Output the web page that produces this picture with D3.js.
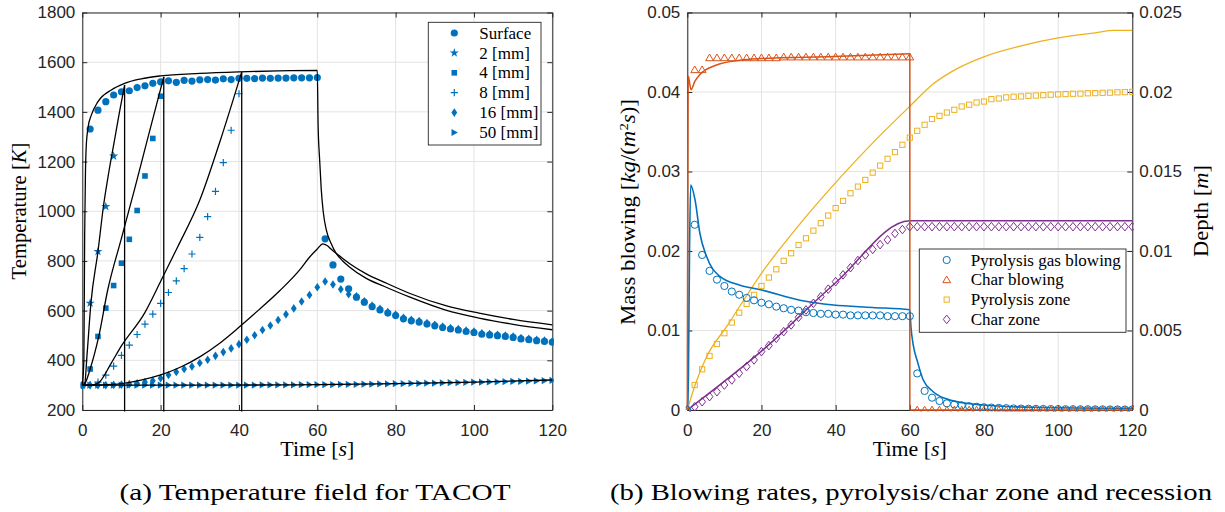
<!DOCTYPE html>
<html><head><meta charset="utf-8">
<script src="https://cdn.jsdelivr.net/npm/d3@7"></script>
<style>body{margin:0;background:#fff}svg{display:block}</style>
</head><body>
<svg id="c" width="1225" height="512"></svg>
<script>
// ---------- DATA ----------
const markerTimes = [0,2,4,6,8,10,12,14,16,18,20,22,24,26,28,30,32,34,36,38,40,42,44,46,48,50,52,54,56,58,60,62,64,66,68,70,72,74,76,78,80,82,84,86,88,90,92,94,96,98,100,102,104,106,108,110,112,114,116,118,120];
const xTicks = [0,20,40,60,80,100,120];
const tempTicks = [200,400,600,800,1000,1200,1400,1600,1800];
const blowTicks = [0,0.01,0.02,0.03,0.04,0.05];
const depthTicks = [0,0.005,0.01,0.015,0.02,0.025];

// (a) measured markers
const surfaceVals = [300,1331,1407,1441,1468,1481,1485,1498,1505,1515,1521,1525,1519,1527,1524,1529,1530,1528,1533,1530,1535,1535,1534,1536,1535,1536,1536,1537,1537,1537,1538,889,784,727,688,654,634,616,603,590,580,567,559,554,546,539,532,526,522,516,512,505,502,499,496,492,486,483,479,476,473];
const mm2Times = [0,2,4,6,8];
const mm2Vals = [300,630,838,1019,1222];
const mm4Times = [0,2,4,6,8,10,12,14,16,18,20];
const mm4Vals = [300,365,496,610,701,791,887,1003,1142,1293,1463];
const mm8Times = [0,2,4,6,8,10,12,14,16,18,20,22,24,26,28,30,32,34,36,38,40];
const mm8Vals = [300,300,312,340,377,420,461,504,546,586,629,673,720,769,828,895,978,1080,1196,1326,1473];
const mm16Vals = [300,300,300,300,301,302,304,307,312,318,328,341,353,365,375,389,402,418,433,448,465,483,501,522,540,562,585,609,637,663,694,717,705,686,666,658,638,620,607,594,584,571,563,558,550,543,536,530,526,520,516,509,506,503,500,496,490,487,483,480,477];
const mm50Vals = [300,300,300,300,300,300,300,300,300,300,300,300,300,300,300,300,300,300,300,300,300,300,300,301,301,301,301,301,302,302,302,302,302,303,303,303,304,304,305,305,306,306,307,307,308,308,309,310,310,311,312,312,313,313,314,315,315,316,317,318,319];

// (a) simulation curves (black)
const simSurfT = [0,0.4,0.6,0.8,1.0,1.5,2.3,4,7.4,10.8,15,20,30,40,50,60,60.2,60.6,61,61.5,62.3,63.5,64.8,66.5,68.2,72.5,77,83.5,92.8,101.3,110,120];
const simSurfV = [300,400,900,1150,1260,1340,1387,1441,1488,1515,1533,1545,1555,1561,1565,1567,1350,1206,1090,1000,925,871,831,800,776,730,698,655,602,570,545,523];
const sim2T = [0,0.6,1.2,2.2,4,5.4,6.8,8.25,9.5,10.8,10.8];
const sim2V = [300,305,420,630,838,1020,1160,1288,1400,1508,0];
const sim4T = [0,0.6,2,4.2,6.5,9.9,13.3,16.7,20.8,20.8];
const sim4V = [300,305,365,496,684,886,1086,1293,1541,0];
const sim8T = [0,2,4,7.4,9.9,15.9,20.2,24.4,30,35.4,40.7,40.7];
const sim8V = [300,300,308,389,456,590,724,858,1045,1293,1561,0];
const sim16T = [0,5,10,15,20,25,30,35,40,45,50.4,55.5,58,60,61.4,62.5,63.5,64.8,66.5,68.2,72.5,77,83.5,92.8,101.3,110,120];
const sim16V = [300,301,306,320,341,372,414,468,533,602,680,764,815,848,869,862,848,831,810,790,748,715,670,620,590,565,543];
const sim50T = [0,30,50,60,80,100,120];
const sim50V = [300,300,301,302,306,312,321];

// (b) markers
const pyroGasVals = [0,0.0233,0.0195,0.0175,0.0164,0.0156,0.0149,0.0145,0.0141,0.0138,0.0135,0.0133,0.0130,0.0128,0.0126,0.0125,0.0123,0.0122,0.0121,0.0121,0.0120,0.0120,0.0119,0.0119,0.0119,0.0119,0.0119,0.0118,0.0118,0.0118,0.0118,0.0046,0.0024,0.00155,0.00113,0.00084,0.0007,0.00058,0.00048,0.0004,0.00034,0.0003,0.00026,0.00023,0.0002,0.00018,0.00016,0.00014,0.00013,0.00012,0.00011,0.0001,0.0001,0.00009,0.00009,0.00008,0.00008,0.00007,0.00007,0.00006,0.00006];
const charBlowVals = [0,0.0428,0.0428,0.0443,0.0443,0.0443,0.0443,0.0443,0.0443,0.0443,0.0443,0.0443,0.0443,0.0444,0.0444,0.0444,0.0444,0.0444,0.0444,0.0444,0.0444,0.0444,0.0444,0.0444,0.0444,0.0444,0.0444,0.0444,0.0444,0.0444,0.0444,0,0,0,0,0,0,0,0,0,0,0,0,0,0,0,0,0,0,0,0,0,0,0,0,0,0,0,0,0,0];
const pyroZoneVals = [0,0.00157,0.00256,0.0034,0.00415,0.00483,0.0055,0.00612,0.00667,0.00724,0.0078,0.00833,0.00885,0.00938,0.00986,0.01038,0.0108,0.01128,0.01175,0.01223,0.0127,0.01315,0.01363,0.01405,0.01447,0.01493,0.01537,0.0158,0.01622,0.01668,0.01713,0.01756,0.01794,0.0183,0.0185,0.01871,0.01888,0.01909,0.0192,0.01934,0.0194,0.01955,0.01959,0.01966,0.0197,0.01972,0.01976,0.01978,0.0198,0.01983,0.01985,0.01987,0.01989,0.0199,0.01992,0.01993,0.01995,0.01996,0.01998,0.01999,0.02001];
const charZoneVals = [0,0.0002,0.00052,0.00084,0.00115,0.00157,0.00189,0.00231,0.00273,0.00315,0.00367,0.00405,0.00451,0.00493,0.00535,0.00583,0.00629,0.00671,0.00713,0.0076,0.00807,0.0085,0.00895,0.0094,0.00975,0.0101,0.0104,0.0107,0.0111,0.01135,0.01153,0.01153,0.01153,0.01153,0.01153,0.01153,0.01153,0.01153,0.01153,0.01153,0.01153,0.01153,0.01153,0.01153,0.01153,0.01153,0.01153,0.01153,0.01153,0.01153,0.01153,0.01153,0.01153,0.01153,0.01153,0.01153,0.01153,0.01153,0.01153,0.01153,0.01153];

// (b) simulation curves
const pyroGasLineT = [0,0.3,0.6,0.9,2.1,3.4,5.2,8.8,14.2,20,30.4,39.4,50,60,60.3,61,62,63.6,66.3,70.8,79.7,93,120];
const pyroGasLineV = [0,0.004,0.02,0.0283,0.0264,0.0222,0.0193,0.0168,0.0157,0.0151,0.0138,0.0132,0.0129,0.0126,0.0105,0.0080,0.0062,0.0038,0.0023,0.00126,0.00063,0.00034,0.0002];
const charBlowLineT = [0,0.25,1,2,3.4,7.9,14.2,20,39.4,60,60,120];
const charBlowLineV = [0,0.042,0.0403,0.0413,0.0422,0.0434,0.0440,0.0442,0.04445,0.0448,0,0];
const pyroZoneLineT = [0,2.1,5.2,10.6,20,30,40,50,60,66.3,73,79.8,90,100,110,115,120];
const pyroZoneLineV = [0,0.00157,0.00335,0.00524,0.0086,0.0116,0.0143,0.0168,0.0191,0.0205,0.0215,0.0222,0.0229,0.0234,0.02372,0.02387,0.02387];
const charZoneLineT = [0,20,40,60,120];
const charZoneLineV = [0,0.0037,0.0080,0.0119,0.0119];

const legendA = ['Surface','2 [mm]','4 [mm]','8 [mm]','16 [mm]','50 [mm]'];
const legendB = ['Pyrolysis gas blowing','Char blowing','Pyrolysis zone','Char zone'];

// ---------- STYLE ----------
const BLUE='#0072BD', RED='#D95319', YEL='#EDB120', PUR='#7E2F8E', AX='#262626', GRID='#e3e3e3';
const SANS='"Liberation Sans", Arial, sans-serif', SERIF='"Liberation Serif", "Times New Roman", serif';

const svg = d3.select('#c');
const TOP=12.5, BOT=410;
const xL = d3.scaleLinear().domain([0,120]).range([82.3,552.3]);
const yL = d3.scaleLinear().domain([200,1800]).range([BOT,TOP]);
const xR = d3.scaleLinear().domain([0,120]).range([687.3,1132.3]);
const yB = d3.scaleLinear().domain([0,0.05]).range([BOT,TOP]);
const yD = d3.scaleLinear().domain([0,0.025]).range([BOT,TOP]);

const defs = svg.append('defs');
function clip(id,x){ defs.append('clipPath').attr('id',id).append('rect')
  .attr('x',x.range()[0]-1.5).attr('y',TOP-1.5).attr('width',x.range()[1]-x.range()[0]+3).attr('height',BOT-TOP+3); }
clip('cl',xL); clip('cr',xR);

function grid(x,y,ticks){
  const g=svg.append('g');
  g.selectAll('.gx').data(xTicks).join('line').attr('x1',d=>x(d)).attr('x2',d=>x(d)).attr('y1',TOP).attr('y2',BOT).attr('stroke',GRID);
  g.selectAll('.gy').data(ticks).join('line').attr('x1',x.range()[0]).attr('x2',x.range()[1]).attr('y1',d=>y(d)).attr('y2',d=>y(d)).attr('stroke',GRID);
}
grid(xL,yL,tempTicks); grid(xR,yB,blowTicks);

const fmt = d => d===0 ? '0' : String(+d.toFixed(3));
function styleAxis(g){ g.select('.domain').attr('stroke',AX).attr('stroke-width',1);
  g.selectAll('.tick line').attr('stroke',AX);
  g.selectAll('text').attr('fill',AX).style('font-family',SANS).style('font-size','17px'); }

function frame(x,y,yRight,fmtY){
  const [x0,x1]=x.range();
  styleAxis(svg.append('g').attr('transform',`translate(0,${BOT})`).call(d3.axisBottom(x).tickValues(xTicks).tickSize(-5).tickSizeOuter(0).tickPadding(13.5)));
  styleAxis(svg.append('g').attr('transform',`translate(0,${TOP})`).call(d3.axisTop(x).tickValues(xTicks).tickSize(-5).tickSizeOuter(0).tickFormat('')));
  styleAxis(svg.append('g').attr('transform',`translate(${x0},0)`).call(d3.axisLeft(y).tickValues(y===yL?tempTicks:blowTicks).tickSize(-5).tickSizeOuter(0).tickPadding(7).tickFormat(fmtY)));
  if(yRight){
    styleAxis(svg.append('g').attr('transform',`translate(${x1},0)`).call(d3.axisRight(yRight).tickValues(depthTicks).tickSize(-5).tickSizeOuter(0).tickPadding(7).tickFormat(fmt)));
  } else {
    styleAxis(svg.append('g').attr('transform',`translate(${x1},0)`).call(d3.axisRight(y).tickValues(tempTicks).tickSize(-5).tickSizeOuter(0).tickFormat('')));
  }
}

// split runs at duplicated x so vertical drops are straight
function runs(T,V){
  const pts=T.map((t,i)=>[t,V[i]]); const out=[]; let cur=[pts[0]];
  for(let i=1;i<pts.length;i++){
    if(pts[i][0]===pts[i-1][0]){ if(cur.length>1) out.push(cur); out.push([pts[i-1],pts[i]]); cur=[pts[i]]; }
    else cur.push(pts[i]);
  }
  if(cur.length>1) out.push(cur); return out;
}
function drawLine(g,x,y,T,V,color,w){
  const line=d3.line().x(d=>x(d[0])).y(d=>y(d[1])).curve(d3.curveMonotoneX);
  runs(T,V).forEach(r=>g.append('path').attr('d',line(r)).attr('fill','none').attr('stroke',color).attr('stroke-width',w).attr('stroke-linejoin','round'));
}

// marker shapes
const SH = {
  circ:  g=>g.append('circle').attr('r',3.6),
  star:  g=>g.append('path').attr('d',d3.symbol(d3.symbolStar,26)()),
  sq:    g=>g.append('rect').attr('x',-2.8).attr('y',-2.8).attr('width',5.6).attr('height',5.6),
  plus:  g=>g.append('path').attr('d','M-3.6,0H3.6M0,-3.6V3.6').attr('fill','none').attr('stroke',BLUE).attr('stroke-width',1.2),
  diam:  g=>g.append('path').attr('d','M0,-4.3L2.9,0L0,4.3L-2.9,0Z'),
  tri:   g=>g.append('path').attr('d','M-2.8,-3.6L3.6,0L-2.8,3.6Z'),
  ocirc: g=>g.append('circle').attr('r',3.6),
  otri:  g=>g.append('path').attr('d','M0,-3.8L3.9,2.9L-3.9,2.9Z'),
  osq:   g=>g.append('rect').attr('x',-2.6).attr('y',-2.6).attr('width',5.2).attr('height',5.2),
  odiam: g=>g.append('path').attr('d','M0,-4.3L3.4,0L0,4.3L-3.4,0Z')
};
function marker(g,shape,color,filled){
  const m=SH[shape](g);
  if(shape!=='plus'){
    if(filled) m.attr('fill',color).attr('stroke','none');
    else m.attr('fill','none').attr('stroke',color).attr('stroke-width',1);
  }
}
function drawMarkers(g,x,y,T,V,shape,color,filled){
  T.forEach((t,i)=>{ const mg=g.append('g').attr('transform',`translate(${x(t)},${y(V[i])})`); marker(mg,shape,color,filled); });
}

// ---------- (a) ----------
frame(xL,yL,null,d=>String(d));
const pa = svg.append('g').attr('clip-path','url(#cl)');
drawMarkers(pa,xL,yL,markerTimes,mm50Vals,'tri',BLUE,true);
drawMarkers(pa,xL,yL,markerTimes,mm16Vals,'diam',BLUE,true);
drawMarkers(pa,xL,yL,mm8Times,mm8Vals,'plus',BLUE,true);
drawMarkers(pa,xL,yL,mm4Times,mm4Vals,'sq',BLUE,true);
drawMarkers(pa,xL,yL,mm2Times,mm2Vals,'star',BLUE,true);
drawMarkers(pa,xL,yL,markerTimes,surfaceVals,'circ',BLUE,true);
[[simSurfT,simSurfV],[sim2T,sim2V],[sim4T,sim4V],[sim8T,sim8V],[sim16T,sim16V],[sim50T,sim50V]]
  .forEach(([T,V])=>drawLine(pa,xL,yL,T,V,'#000',1.3));

// legend (a)
const la = svg.append('g');
la.append('rect').attr('x',428.3).attr('y',22.3).attr('width',112.7).attr('height',122.7).attr('fill','#fff').attr('stroke',AX).attr('stroke-width',0.9);
const shapesA=['circ','star','sq','plus','diam','tri'];
legendA.forEach((s,i)=>{
  const yy=33+i*19.9;
  const mg=la.append('g').attr('transform',`translate(454.3,${yy})`); marker(mg,shapesA[i],BLUE,true);
  la.append('text').attr('x',479.3).attr('y',yy).attr('dy','0.33em').text(s).style('font-family',SERIF).style('font-size','17px').attr('fill','#000');
});

// ---------- (b) ----------
frame(xR,yB,yD,fmt);
const pb = svg.append('g').attr('clip-path','url(#cr)');
drawLine(pb,xR,yD,pyroZoneLineT,pyroZoneLineV,YEL,1.3);
drawLine(pb,xR,yD,charZoneLineT,charZoneLineV,PUR,1.5);
drawLine(pb,xR,yB,pyroGasLineT,pyroGasLineV,BLUE,1.6);
drawLine(pb,xR,yB,charBlowLineT,charBlowLineV,RED,1.5);
drawMarkers(pb,xR,yD,markerTimes,pyroZoneVals,'osq',YEL,false);
drawMarkers(pb,xR,yD,markerTimes,charZoneVals,'odiam',PUR,false);
drawMarkers(pb,xR,yB,markerTimes,pyroGasVals,'ocirc',BLUE,false);
drawMarkers(pb,xR,yB,markerTimes,charBlowVals,'otri',RED,false);

// legend (b)
const lb = svg.append('g');
lb.append('rect').attr('x',919.3).attr('y',249).attr('width',206.7).attr('height',83.3).attr('fill','#fff').attr('stroke',AX).attr('stroke-width',0.9);
const shapesB=[['ocirc',BLUE],['otri',RED],['osq',YEL],['odiam',PUR]];
legendB.forEach((s,i)=>{
  const yy=260+i*19.8;
  const mg=lb.append('g').attr('transform',`translate(946.7,${yy})`); marker(mg,shapesB[i][0],shapesB[i][1],false);
  lb.append('text').attr('x',970.7).attr('y',yy).attr('dy','0.33em').text(s).style('font-family',SERIF).style('font-size','17px').attr('fill','#000');
});

// ---------- labels ----------
function label(x,y,rot,len,size,parts){
  const t=svg.append('text').attr('transform',`translate(${x},${y}) rotate(${rot})`)
    .attr('text-anchor','middle').attr('textLength',len).attr('lengthAdjust','spacingAndGlyphs')
    .style('font-family',SERIF).style('font-size',size+'px').attr('fill','#000');
  parts.forEach(p=>{ const ts=t.append('tspan').text(p[0]); if(p[1]) ts.style('font-style','italic'); if(p[2]) ts.attr('dy',p[2]).style('font-size',p[3]||null); });
  return t;
}
label(317.3,456,0,74,20,[['Time ['],['s',1],[']']]);
label(909.8,456,0,74,20,[['Time ['],['s',1],[']']]);
label(25.5,211,-90,137,20,[['Temperature ['],['K',1],[']']]);
label(634.5,212,-90,226,20,[['Mass blowing ['],['kg',1],['/('],['m',1],['2',0,-7,'13px'],['s',1,7,'20px'],[')]']]);
label(1208,211,-90,92,20,[['Depth ['],['m',1],[']']]);
label(315,500,0,391,24,[['(a) Temperature field for TACOT']]);
label(911,500,0,602,24,[['(b) Blowing rates, pyrolysis/char zone and recession']]);
</script>
</body></html>
